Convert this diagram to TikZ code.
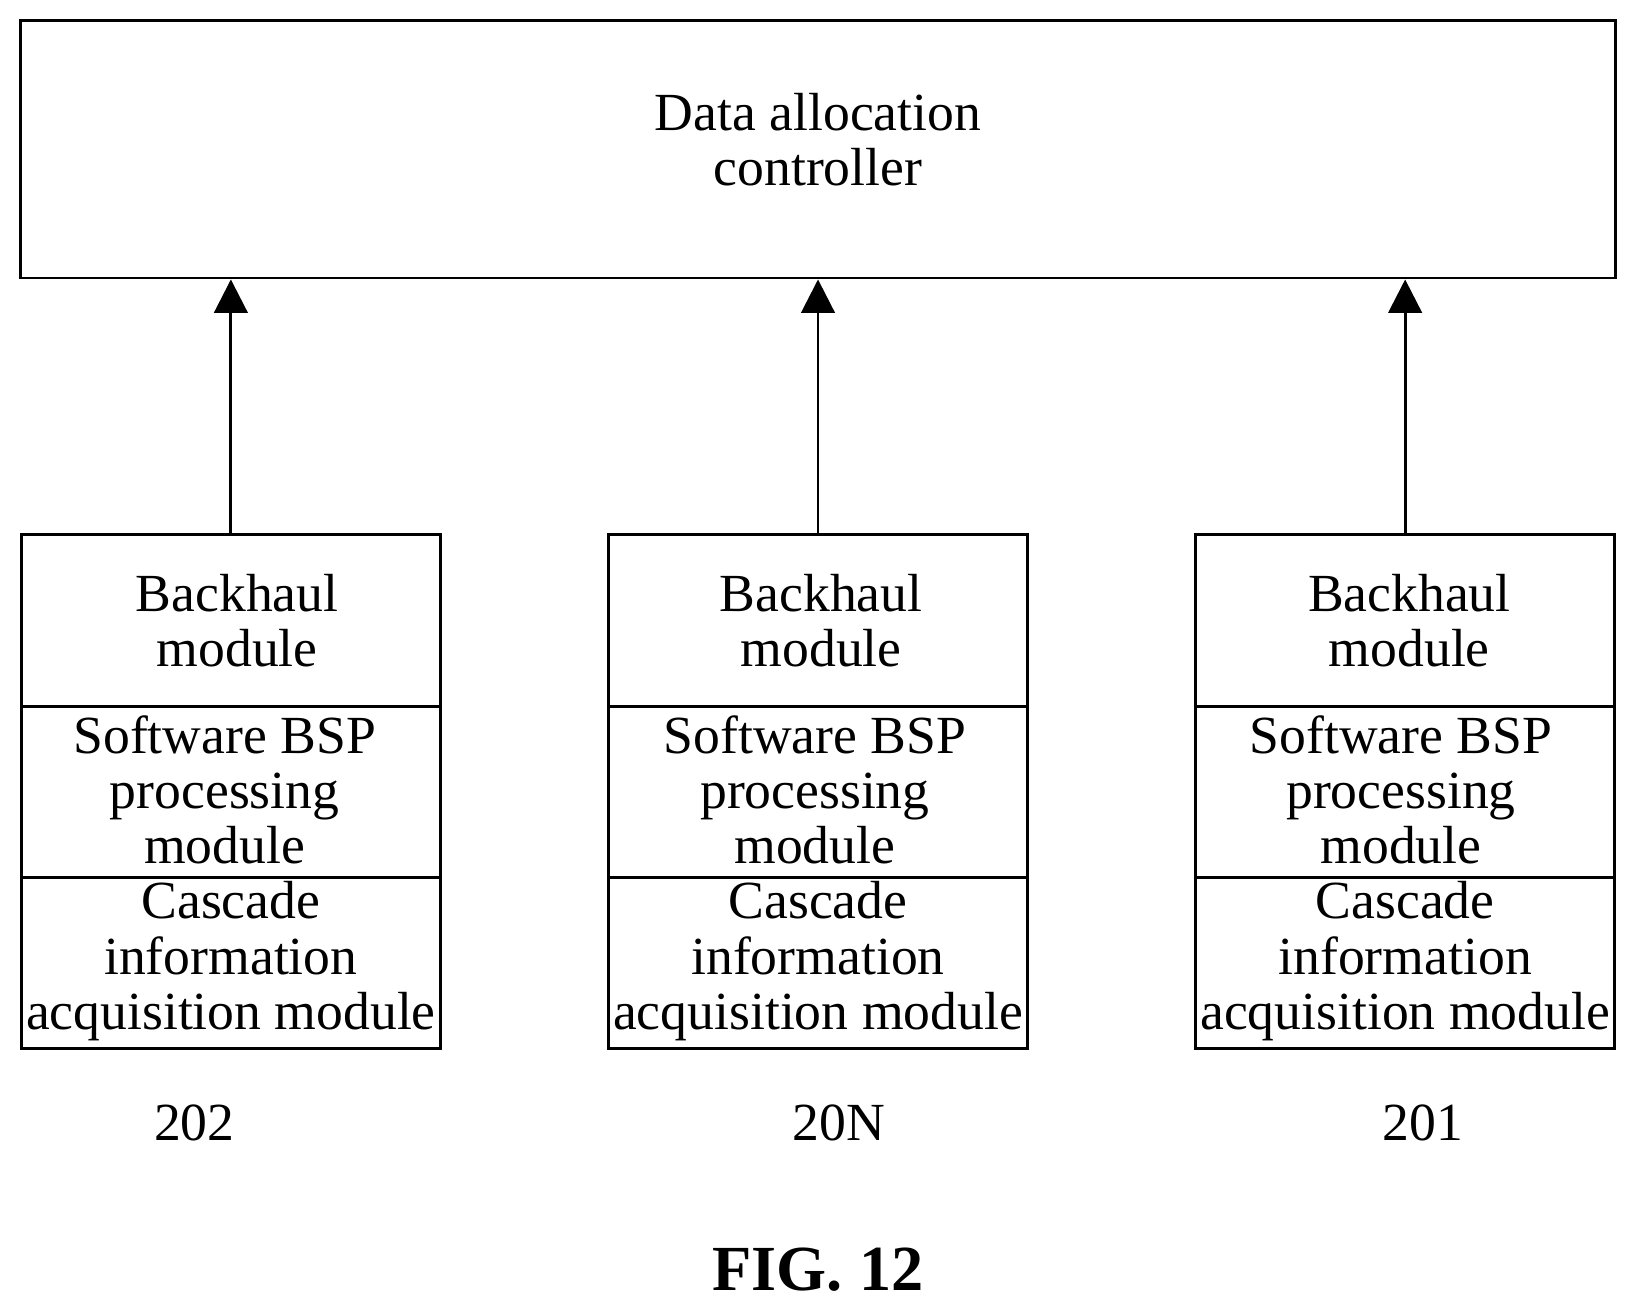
\documentclass[tikz,border=0pt]{standalone}
\usepackage{fontspec}
\setmainfont{Liberation Serif}
\usetikzlibrary{arrows.meta}
\begin{document}
\begin{tikzpicture}[x=0.01cm,y=-0.01cm,
  box/.style={draw,line width=0.8pt,inner sep=0pt},
  txt/.style={align=center,font=\fontsize{14.6}{15}\selectfont},
  arr/.style={line width=0.8pt,-{Triangle[length=0.32cm,width=0.32cm]}}]
\useasboundingbox (0,0) rectangle (1565,1254);
\node[box,minimum width=15.26cm,minimum height=2.46cm] (top) at (783,143) {};
\node[txt] (toptxt) at (783,134) {Data allocation\\controller};
\foreach \n/\x/\lab/\lx/\d in {a/221/202/186/-6, b/783/20N/803/-3, c/1345/201/1362/-4}{
  \node[box,minimum width=4.01cm,minimum height=1.64cm] (\n1) at (\x,594) {};
  \node[box,minimum width=4.01cm,minimum height=1.64cm] (\n2) at (\x,758) {};
  \node[box,minimum width=4.01cm,minimum height=1.64cm] (\n3) at (\x,922) {};
  \node[txt] (\n t1) at (\x-\d,594) {Backhaul\\module};
  \node[txt] (\n t2) at (\x+\d,756) {Software BSP\\processing\\module};
  \node[txt] (\n t3) at (\x,920) {Cascade\\information\\acquisition module};
  \node[txt] (\n l) at (\lx,1075) {\lab};
  \draw[arr] (\n1.north) -- (\n1.north |- top.south);
}
\node[font=\fontsize{17.5}{20}\selectfont\bfseries] (fig) at (783,1215) {FIG. 12};
\end{tikzpicture}
\end{document}
